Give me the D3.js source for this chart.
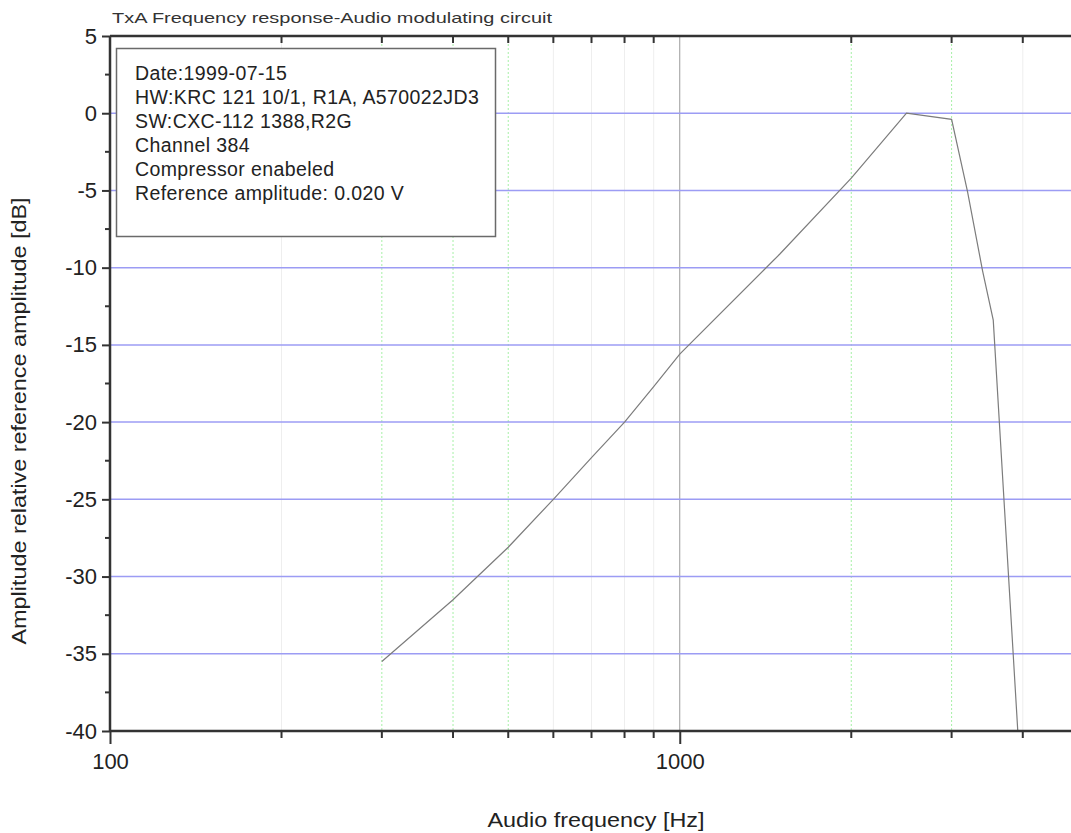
<!DOCTYPE html>
<html>
<head>
<meta charset="utf-8">
<script src="https://cdn.jsdelivr.net/npm/d3@7"></script>
<style>
  body { margin: 0; background: #fff; }
  text { font-family: "Liberation Sans", Arial, sans-serif; }
</style>
</head>
<body>
<div id="chart"></div>
<script>
// frequency response
var freqs = [300, 400, 500, 600, 700, 800, 900, 1000, 1500, 2000, 2500, 3000, 3200, 3400, 3550, 3920];
var ampl  = [-35.5, -31.5, -28.1, -25.0, -22.3, -20.0, -17.7, -15.6, -9.1, -4.2, 0.0, -0.4, -5.1, -10.2, -13.4, -40];

var yTicks = [5, 0, -5, -10, -15, -20, -25, -30, -35, -40];
var xLabelTicks = [100, 1000];
var greenGrid = [300, 400, 500, 2000, 3000];
var faintGrid = [200, 600, 700, 800, 900, 4000];
var minorX = [200, 300, 400, 500, 600, 700, 800, 900, 2000, 3000, 4000];

var legendLines = [
  "Date:1999-07-15",
  "HW:KRC 121 10/1, R1A, A570022JD3",
  "SW:CXC-112 1388,R2G",
  "Channel 384",
  "Compressor enabeled",
  "Reference amplitude: 0.020 V"
];

var W = 1071, H = 833;
var margin = {top: 36, left: 110};
var width = 968, height = 695;

var svg = d3.select("#chart").append("svg")
    .attr("width", W).attr("height", H);

var g = svg.append("g")
    .attr("transform", "translate(" + margin.left + "," + margin.top + ")");

var x = d3.scaleLog().domain([100, 5000]).range([0, width]);
var y = d3.scaleLinear().domain([-40, 5]).range([height, 0]);

// vertical grid
g.selectAll(".fgrid").data(faintGrid).enter().append("line")
    .attr("x1", function(d) { return x(d); }).attr("x2", function(d) { return x(d); })
    .attr("y1", 0).attr("y2", height)
    .attr("stroke", "#eeeeee").attr("stroke-width", 1);

g.selectAll(".ggrid").data(greenGrid).enter().append("line")
    .attr("x1", function(d) { return x(d); }).attr("x2", function(d) { return x(d); })
    .attr("y1", 0).attr("y2", height)
    .attr("stroke", "#a6f0a6").attr("stroke-width", 1)
    .attr("stroke-dasharray", "2,2");

g.append("line")
    .attr("x1", x(1000)).attr("x2", x(1000))
    .attr("y1", 0).attr("y2", height)
    .attr("stroke", "#9a9a9a").attr("stroke-width", 1);

// horizontal grid
g.selectAll(".hgrid").data(yTicks.filter(function(d) { return d < 5 && d > -40; })).enter().append("line")
    .attr("x1", 0).attr("x2", width)
    .attr("y1", function(d) { return y(d); }).attr("y2", function(d) { return y(d); })
    .attr("stroke", "#9c9cf4").attr("stroke-width", 1.5);

// curve
var line = d3.line()
    .x(function(d) { return x(d[0]); })
    .y(function(d) { return y(d[1]); });

g.append("path")
    .datum(d3.zip(freqs, ampl))
    .attr("fill", "none")
    .attr("stroke", "#7c7c7c")
    .attr("stroke-width", 1.2)
    .attr("d", line);

// legend box
var leg = svg.append("g");
leg.append("rect")
    .attr("x", 116.5).attr("y", 48.5).attr("width", 379).attr("height", 188)
    .attr("fill", "#fff").attr("stroke", "#6a6a6a").attr("stroke-width", 1.5);
leg.selectAll("text").data(legendLines).enter().append("text")
    .attr("x", 135)
    .attr("y", function(d, i) { return 80 + i * 24; })
    .attr("font-size", 19.5)
    .attr("fill", "#222")
    .attr("letter-spacing", 0.4)
    .text(function(d) { return d; });

var fmt = function(d) { return String(d); };

// y axis
var yAxis = d3.axisLeft(y).tickValues(yTicks).tickSize(8).tickPadding(5).tickFormat(fmt);
var ya = g.append("g").call(yAxis);
ya.select(".domain").remove();
ya.selectAll("text").attr("font-size", 22).attr("fill", "#222");
ya.selectAll("line").attr("stroke", "#333").attr("stroke-width", 2);

var yMinor = d3.range(-37.5, 5, 5);
g.selectAll(".ymin").data(yMinor).enter().append("line")
    .attr("x1", -5).attr("x2", 0)
    .attr("y1", function(d) { return y(d); }).attr("y2", function(d) { return y(d); })
    .attr("stroke", "#333").attr("stroke-width", 2);

// x axis (bottom)
var xAxis = d3.axisBottom(x).tickValues(xLabelTicks).tickSize(13).tickPadding(9).tickFormat(fmt);
var xa = g.append("g").attr("transform", "translate(0," + height + ")").call(xAxis);
xa.select(".domain").remove();
xa.selectAll("text").attr("font-size", 22).attr("fill", "#222");
xa.selectAll("line").attr("stroke", "#333").attr("stroke-width", 2);

g.selectAll(".xminb").data(minorX).enter().append("line")
    .attr("x1", function(d) { return x(d); }).attr("x2", function(d) { return x(d); })
    .attr("y1", height).attr("y2", height + 7)
    .attr("stroke", "#333").attr("stroke-width", 2);

// top axis ticks point inward
g.selectAll(".xmint").data(minorX).enter().append("line")
    .attr("x1", function(d) { return x(d); }).attr("x2", function(d) { return x(d); })
    .attr("y1", 0).attr("y2", 7)
    .attr("stroke", "#333").attr("stroke-width", 2);

// frame
g.append("line").attr("x1", 0).attr("x2", width).attr("y1", 0).attr("y2", 0)
    .attr("stroke", "#333").attr("stroke-width", 2.5);
g.append("line").attr("x1", 0).attr("x2", width).attr("y1", height).attr("y2", height)
    .attr("stroke", "#333").attr("stroke-width", 2.5);
g.append("line").attr("x1", 0).attr("x2", 0).attr("y1", 0).attr("y2", height)
    .attr("stroke", "#333").attr("stroke-width", 2.5);

// titles
svg.append("text")
    .attr("x", 112).attr("y", 23)
    .attr("font-size", 15).attr("fill", "#333")
    .attr("textLength", 440).attr("lengthAdjust", "spacingAndGlyphs")
    .text("TxA Frequency response-Audio modulating circuit");

svg.append("text")
    .attr("x", 596).attr("y", 827)
    .attr("text-anchor", "middle")
    .attr("font-size", 20).attr("fill", "#222")
    .attr("textLength", 217).attr("lengthAdjust", "spacingAndGlyphs")
    .text("Audio frequency [Hz]");

svg.append("text")
    .attr("transform", "translate(26,421) rotate(-90)")
    .attr("text-anchor", "middle")
    .attr("font-size", 20).attr("fill", "#222")
    .attr("textLength", 447).attr("lengthAdjust", "spacingAndGlyphs")
    .text("Amplitude relative reference amplitude [dB]");
</script>
</body>
</html>
